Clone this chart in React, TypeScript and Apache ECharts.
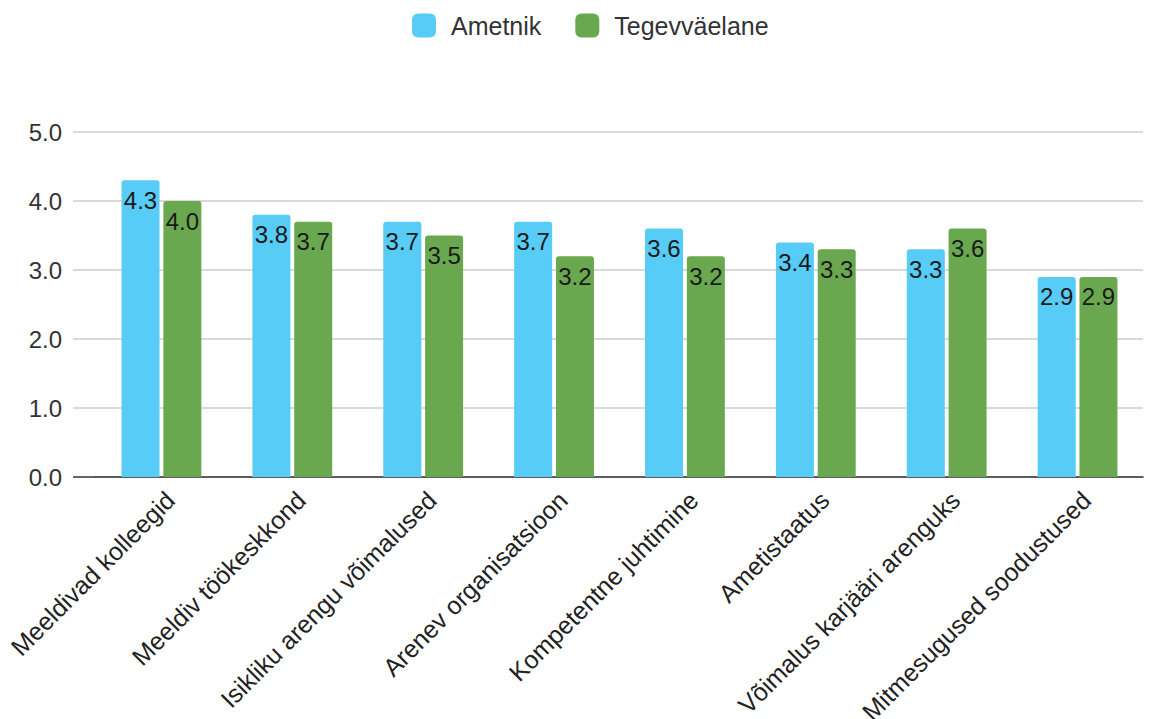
import React, { useEffect, useRef } from "react";
import * as echarts from "echarts";

const categories = [
  "Meeldivad kolleegid",
  "Meeldiv töökeskkond",
  "Isikliku arengu võimalused",
  "Arenev organisatsioon",
  "Kompetentne juhtimine",
  "Ametistaatus",
  "Võimalus karjääri arenguks",
  "Mitmesugused soodustused",
];
const ametnik = [4.3, 3.8, 3.7, 3.7, 3.6, 3.4, 3.3, 2.9];
const tegevvaelane = [4.0, 3.7, 3.5, 3.2, 3.2, 3.3, 3.6, 2.9];
const yTicks = [0, 1, 2, 3, 4, 5];

const BLUE = "#56CCF6";
const GREEN = "#6AA84F";
const FONT = "Arial";

export default function App() {
  const ref = useRef<HTMLDivElement>(null);

  useEffect(() => {
    if (!ref.current) return;
    const chart = echarts.init(ref.current, null, { renderer: "svg" });

    const labelFor = (color: string) => ({
      show: true,
      position: "insideTop",
      distance: 8,
      fontSize: 24,
      fontFamily: FONT,
      color: "#1a1a1a",
      textBorderColor: color,
      textBorderWidth: 3,
      formatter: (p: any) => Number(p.value).toFixed(1),
    });

    chart.setOption({
      animation: false,
      textStyle: { fontFamily: FONT },
      legend: {
        top: 13,
        left: 412,
        padding: 0,
        itemWidth: 24,
        itemHeight: 24,
        itemGap: 34,
        icon: "roundRect",
        textStyle: { fontSize: 25, color: "#333", fontFamily: FONT, padding: [0, 0, 0, 10] },
        data: ["Ametnik", "Tegevväelane"],
      },
      grid: {
        left: 96,
        right: 13,
        top: 132,
        bottom: 242,
        containLabel: false,
        outerBoundsMode: "none",
      },
      xAxis: {
        type: "category",
        data: categories,
        axisTick: { show: false },
        axisLine: { lineStyle: { color: "#333", width: 1.5 } },
        axisLabel: {
          rotate: 45,
          interval: 0,
          margin: 10,
          fontSize: 25,
          color: "#222",
          fontFamily: FONT,
          align: "right",
          verticalAlign: "top",
        },
      },
      yAxis: {
        type: "value",
        min: yTicks[0],
        max: yTicks[yTicks.length - 1],
        interval: 1,
        axisLine: { show: false },
        axisTick: { show: false },
        splitLine: { lineStyle: { color: "#cccccc", width: 1.5 } },
        axisLabel: {
          fontSize: 24,
          color: "#333",
          fontFamily: FONT,
          margin: 34,
          formatter: (v: number) => v.toFixed(1),
        },
      },
      series: [
        {
          name: "Ametnik",
          type: "bar",
          data: ametnik,
          barWidth: 38,
          barGap: "10%",
          itemStyle: { color: BLUE, borderRadius: [3, 3, 0, 0] },
          label: labelFor(BLUE),
        },
        {
          name: "Tegevväelane",
          type: "bar",
          data: tegevvaelane,
          barWidth: 38,
          barGap: "10%",
          itemStyle: { color: GREEN, borderRadius: [3, 3, 0, 0] },
          label: labelFor(GREEN),
        },
      ],
    });

    // Extend the horizontal gridlines leftwards to sit beside the tick labels
    const lines = yTicks.map((v) => {
      const y = chart.convertToPixel({ yAxisIndex: 0 }, v);
      return {
        type: "line",
        shape: { x1: 73, y1: y, x2: 96, y2: y },
        style: { stroke: v === 0 ? "#333" : "#cccccc", lineWidth: 1.5 },
        silent: true,
      };
    });
    chart.setOption({ graphic: lines });

    return () => chart.dispose();
  }, []);

  return <div ref={ref} style={{ width: 1156, height: 719, position: "absolute", left: 0, top: 0 }} />;
}
